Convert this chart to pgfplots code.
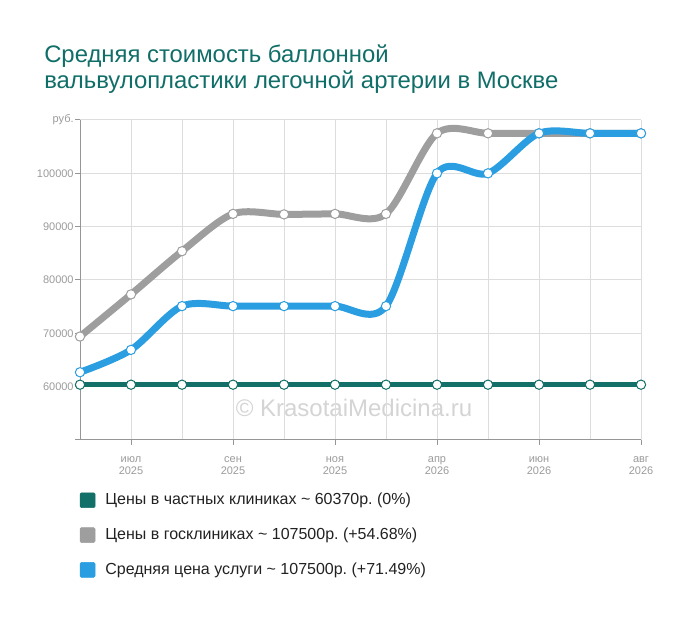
\documentclass[border=0pt]{standalone}
\usepackage{pgfplots}
\pgfplotsset{compat=1.18}
\usepackage{fontspec}
\setmainfont{Liberation Sans}
\frenchspacing
\definecolor{cTitle}{RGB}{16,110,104}
\definecolor{cPriv}{RGB}{18,112,104}
\definecolor{cGos}{RGB}{158,158,158}
\definecolor{cAvg}{RGB}{42,158,224}
\definecolor{cGrid}{RGB}{221,221,221}
\definecolor{cAxis}{RGB}{150,150,150}
\definecolor{cTick}{RGB}{155,155,155}
\definecolor{cWm}{RGB}{212,212,212}
\definecolor{cLeg}{RGB}{34,34,34}
\begin{document}
\begin{tikzpicture}[x=0.75pt,y=0.75pt]
\path (0,0) rectangle (700,617);
\node[anchor=base west, font=\fontsize{17.9}{20}\selectfont, text=cTitle, inner sep=0] at (44,554) {Средняя стоимость баллонной};
\node[anchor=base west, font=\fontsize{17.9}{20}\selectfont, text=cTitle, inner sep=0] at (44,528) {вальвулопластики легочной артерии в Москве};
\node[anchor=base, font=\fontsize{18}{20}\selectfont, text=cWm, inner sep=0] at (354,200) {© KrasotaiMedicina.ru};
\begin{axis}[
  at={(60pt,132.75pt)}, anchor=south west,
  scale only axis, width=420.75pt, height=240pt,
  xmin=0, xmax=11, ymin=50000, ymax=110000,
  clip=false,
  scaled y ticks=false,
  axis x line*=bottom, axis y line*=left,
  axis line style={cAxis, line width=0.75pt, -},
  xtick={1,3,5,7,9,11},
  xticklabels={июл\\2025, сен\\2025, ноя\\2025, апр\\2026, июн\\2026, авг\\2026},
  minor xtick={0,2,4,6,8,10},
  ytick={50000,60000,70000,80000,90000,100000,110000},
  yticklabels={,60000,70000,80000,90000,100000,руб.},
  xmajorgrids, xminorgrids, ymajorgrids,
  grid style={cGrid, line width=0.75pt},
  minor grid style={cGrid, line width=0.75pt},
  tick align=outside,
  major tick length=3.75pt, minor tick length=0pt,
  tick style={cAxis, line width=0.75pt},
  xticklabel style={align=center, font=\fontsize{8.25}{9}\selectfont, text=cTick, yshift=-5.5pt},
  yticklabel style={font=\fontsize{8.25}{10}\selectfont, text=cTick, xshift=2.5pt},
  legend style={at={(axis description cs:-0.008,-0.155)}, anchor=north west,
    draw=none, fill=none, font=\fontsize{12}{14}\selectfont, text=cLeg,
    row sep=13.9pt, nodes={inner sep=0pt, text height=9pt, text depth=3pt},
    /tikz/every odd column/.append style={column sep=7.5pt}},
  legend cell align=left,
]
\addlegendimage{legend image code/.code={\fill[cPriv, rounded corners=1pt] (0pt,-5.2pt) rectangle (11.25pt,6pt);}}
\addlegendentry{Цены в частных клиниках \char`~{} 60370р. (0\%)}
\addlegendimage{legend image code/.code={\fill[cGos, rounded corners=1pt] (0pt,-5.2pt) rectangle (11.25pt,6pt);}}
\addlegendentry{Цены в госклиниках \char`~{} 107500р. (+54.68\%)}
\addlegendimage{legend image code/.code={\fill[cAvg, rounded corners=1pt] (0pt,-5.2pt) rectangle (11.25pt,6pt);}}
\addlegendentry{Средняя цена услуги \char`~{} 107500р. (+71.49\%)}

\addplot[forget plot, cPriv, line width=4pt, mark=*, mark size=3.5pt,
  mark options={fill=white, draw=cPriv, line width=0.75pt}]
  coordinates {(0,60370)(1,60370)(2,60370)(3,60370)(4,60370)(5,60370)(6,60370)(7,60370)(8,60370)(9,60370)(10,60370)(11,60370)};
\addplot[forget plot, cGos, line width=5.25pt, smooth, mark=*, mark size=3.5pt,
  mark options={fill=white, draw=cGos, line width=0.75pt}]
  coordinates {(0,69400)(1,77300)(2,85400)(3,92400)(4,92300)(5,92400)(6,92400)(7,107500)(8,107500)(9,107500)(10,107500)(11,107500)};
\addplot[forget plot, cAvg, line width=5.25pt, smooth, mark=*, mark size=3.5pt,
  mark options={fill=white, draw=cAvg, line width=0.75pt}]
  coordinates {(0,62700)(1,66900)(2,75100)(3,75100)(4,75100)(5,75100)(6,75100)(7,100000)(8,100000)(9,107500)(10,107500)(11,107500)};
\end{axis}
\end{tikzpicture}
\end{document}
